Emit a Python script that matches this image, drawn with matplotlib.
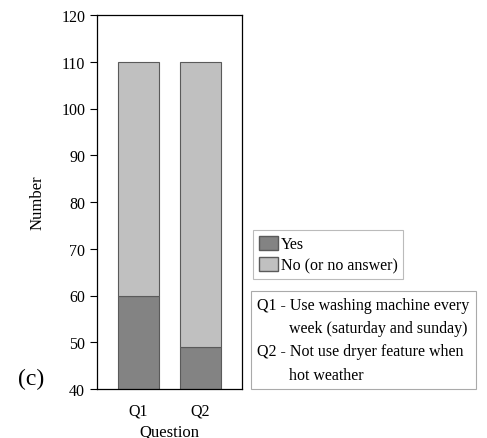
import numpy as np
import matplotlib.pyplot as plt
from matplotlib.patches import Patch

plt.rcParams['font.family'] = ['Liberation Serif', 'DejaVu Serif']

questions = ['Q1', 'Q2']
yes_vals = [60, 49]
no_vals = [50, 61]   # stacked on top of yes, total 110
yticks = [40, 50, 60, 70, 80, 90, 100, 110, 120]

c_yes = '#838383'
c_no = '#c0c0c0'
c_edge = '#5a5a5a'

fig = plt.figure(figsize=(4.87, 4.39), dpi=100)
ax = fig.add_axes([97/487, 1-390/439, 145/487, 374/439])

x = np.arange(len(questions))
ax.bar(x, yes_vals, width=0.66, color=c_yes, edgecolor=c_edge, linewidth=0.8)
ax.bar(x, no_vals, bottom=yes_vals, width=0.66, color=c_no, edgecolor=c_edge, linewidth=0.8)

ax.set_xlim(-0.669, 1.669)
ax.set_ylim(40, 120)
ax.set_yticks(yticks)
ax.set_xticks(x)
ax.set_xticklabels(questions)
ax.tick_params(axis='x', length=0, labelsize=11.5, pad=10)
ax.tick_params(axis='y', length=5, width=0.8, labelsize=11.5, direction='out')
for s in ax.spines.values():
    s.set_linewidth(0.9)
ax.set_ylabel('Number', fontsize=12, labelpad=11)
ax.set_xlabel('Question', fontsize=12, labelpad=3)

handles = [Patch(facecolor=c_yes, edgecolor=c_edge, label='Yes'),
           Patch(facecolor=c_no, edgecolor=c_edge, label='No (or no answer)')]
leg = fig.legend(handles=handles, loc='upper left', bbox_to_anchor=(253/487, 1-231/439),
                 fontsize=11.5, frameon=True, fancybox=False, edgecolor='#aaaaaa',
                 handlelength=1.2, handleheight=1.0, handletextpad=0.2,
                 borderpad=0.35, labelspacing=0.3, borderaxespad=0)
leg.get_frame().set_linewidth(0.8)

fig.text(257/487, 1-298/439,
         'Q1 - Use washing machine every\n        week (saturday and sunday)\n'
         'Q2 - Not use dryer feature when\n        hot weather',
         fontsize=11.5, va='top', ha='left', linespacing=1.6,
         bbox=dict(boxstyle='square,pad=0.4', facecolor='white', edgecolor='#aaaaaa', linewidth=0.8))

fig.text(18/487, 1-385/439, '(c)', fontsize=17)

fig.savefig('out.png', dpi=100)
